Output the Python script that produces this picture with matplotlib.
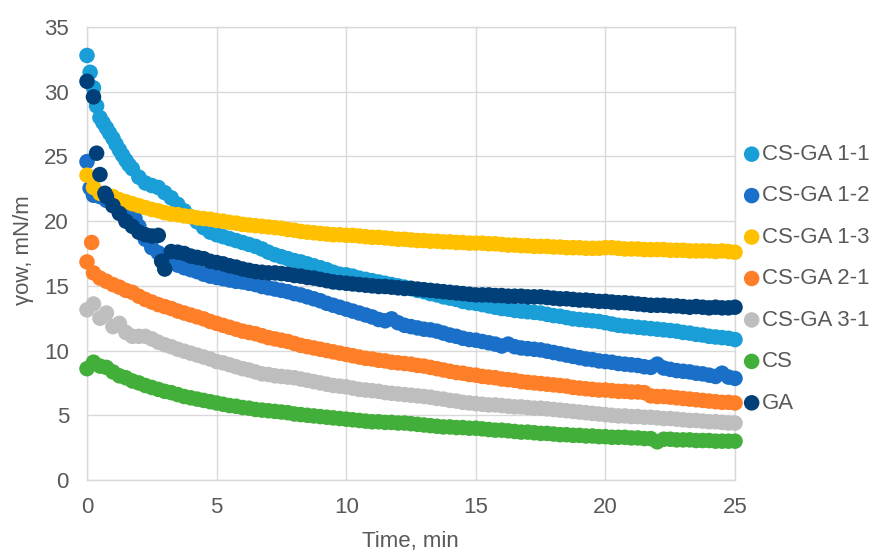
import numpy as np
import matplotlib
matplotlib.use("Agg")
import matplotlib.pyplot as plt

plt.rcParams['font.family'] = ['Liberation Sans', 'DejaVu Sans']

# readings every 0.25 min
minutes = np.arange(0, 25.01, 0.25)

cs_ga_11 = [32.8, 30.3, 28.0, 27.2, 26.4, 25.5, 24.7, 24.05, 23.4, 22.95, 22.75, 22.6,
            22.2, 21.8, 21.3, 20.8, 20.35, 19.95, 19.5, 19.15, 18.95, 18.8, 18.65, 18.5,
            18.35, 18.2, 18.05, 17.85, 17.6, 17.4, 17.25, 17.1, 16.95, 16.85, 16.7, 16.55,
            16.4, 16.25, 16.05, 15.9, 15.85, 15.75, 15.6, 15.5, 15.4, 15.3, 15.2, 15.1,
            15.0, 14.9, 14.8, 14.65, 14.55, 14.4, 14.3, 14.15, 14.05, 13.95, 13.8, 13.7,
            13.65, 13.55, 13.45, 13.35, 13.25, 13.2, 13.1, 13.05, 13.0, 12.95, 12.9, 12.8,
            12.7, 12.65, 12.55, 12.45, 12.4, 12.35, 12.3, 12.25, 12.15, 12.05, 11.95, 11.9,
            11.85, 11.8, 11.75, 11.7, 11.65, 11.6, 11.55, 11.5, 11.4, 11.35, 11.25, 11.2,
            11.1, 11.05, 11.0, 10.95, 10.85]

cs_ga_12 = [24.6, 22.0, 21.9, 21.6, 21.2, 20.8, 20.5, 20.25, 19.6, 18.6, 17.95, 17.55,
            17.1, 16.8, 16.6, 16.4, 16.25, 16.1, 15.9, 15.75, 15.65, 15.55, 15.45, 15.35,
            15.3, 15.2, 15.1, 14.95, 14.85, 14.75, 14.65, 14.55, 14.4, 14.3, 14.15, 14.0,
            13.85, 13.65, 13.5, 13.35, 13.2, 13.05, 12.9, 12.75, 12.6, 12.4, 12.3, 12.45,
            12.15, 11.95, 11.85, 11.75, 11.65, 11.6, 11.5, 11.35, 11.2, 11.1, 10.95, 10.85,
            10.8, 10.7, 10.6, 10.5, 10.35, 10.5, 10.3, 10.2, 10.15, 10.1, 10.05, 9.95,
            9.85, 9.75, 9.65, 9.55, 9.45, 9.35, 9.3, 9.2, 9.15, 9.1, 9.0, 8.95,
            8.9, 8.85, 8.75, 8.7, 8.95, 8.65, 8.55, 8.45, 8.4, 8.35, 8.25, 8.2,
            8.1, 8.0, 8.25, 7.95, 7.85]

cs_ga_13 = [23.55, 22.6, 22.15, 22.0, 21.9, 21.65, 21.5, 21.35, 21.2, 21.05, 20.9, 20.8,
            20.65, 20.55, 20.5, 20.4, 20.35, 20.25, 20.2, 20.15, 20.05, 20.0, 19.9, 19.85,
            19.75, 19.7, 19.65, 19.6, 19.55, 19.5, 19.45, 19.35, 19.3, 19.2, 19.15, 19.1,
            19.05, 19.0, 18.95, 18.95, 18.9, 18.9, 18.85, 18.8, 18.75, 18.75, 18.7, 18.65,
            18.6, 18.6, 18.55, 18.5, 18.5, 18.45, 18.45, 18.4, 18.4, 18.35, 18.35, 18.3,
            18.3, 18.3, 18.25, 18.25, 18.2, 18.15, 18.15, 18.1, 18.1, 18.05, 18.05, 18.05,
            18.0, 18.0, 17.95, 17.95, 17.95, 17.9, 17.9, 17.9, 17.95, 17.95, 17.9, 17.85,
            17.85, 17.85, 17.8, 17.8, 17.8, 17.8, 17.75, 17.75, 17.75, 17.7, 17.7, 17.7,
            17.7, 17.65, 17.7, 17.65, 17.6]

cs_ga_21 = [16.85, 16.0, 15.6, 15.35, 15.1, 14.9, 14.65, 14.5, 14.2, 13.95, 13.75, 13.55,
            13.4, 13.25, 13.05, 12.9, 12.75, 12.6, 12.45, 12.25, 12.1, 11.95, 11.8, 11.65,
            11.5, 11.4, 11.3, 11.15, 11.0, 10.9, 10.8, 10.7, 10.55, 10.4, 10.3, 10.2,
            10.1, 10.0, 9.9, 9.8, 9.7, 9.6, 9.5, 9.4, 9.35, 9.25, 9.2, 9.1,
            9.05, 9.0, 8.95, 8.85, 8.8, 8.7, 8.6, 8.5, 8.4, 8.3, 8.25, 8.15,
            8.1, 8.0, 7.95, 7.9, 7.8, 7.75, 7.7, 7.6, 7.55, 7.5, 7.45, 7.4,
            7.35, 7.3, 7.25, 7.15, 7.1, 7.05, 7.0, 6.95, 6.95, 6.9, 6.85, 6.85,
            6.8, 6.8, 6.75, 6.5, 6.45, 6.45, 6.4, 6.35, 6.3, 6.25, 6.2, 6.15,
            6.1, 6.05, 6.0, 6.0, 5.95]

cs_ga_31 = [13.15, 13.6, 12.5, 12.9, 11.85, 12.1, 11.4, 11.1, 11.1, 11.1, 10.9, 10.65,
            10.45, 10.3, 10.1, 9.95, 9.8, 9.65, 9.5, 9.35, 9.15, 9.05, 8.9, 8.75,
            8.6, 8.5, 8.35, 8.2, 8.15, 8.05, 8.0, 7.95, 7.9, 7.8, 7.7, 7.6,
            7.5, 7.4, 7.3, 7.25, 7.2, 7.1, 7.0, 6.95, 6.9, 6.85, 6.75, 6.7,
            6.65, 6.6, 6.55, 6.5, 6.45, 6.4, 6.3, 6.25, 6.15, 6.1, 6.0, 5.95,
            5.9, 5.85, 5.8, 5.8, 5.75, 5.7, 5.65, 5.65, 5.6, 5.55, 5.55, 5.5,
            5.45, 5.4, 5.35, 5.3, 5.25, 5.2, 5.15, 5.1, 5.05, 5.0, 4.95, 4.95,
            4.9, 4.9, 4.85, 4.85, 4.8, 4.75, 4.75, 4.7, 4.65, 4.6, 4.6, 4.55,
            4.5, 4.5, 4.45, 4.4, 4.4]

cs = [8.6, 9.1, 8.8, 8.7, 8.35, 8.05, 7.9, 7.65, 7.5, 7.3, 7.15, 7.0,
      6.85, 6.75, 6.6, 6.45, 6.35, 6.25, 6.15, 6.05, 5.95, 5.85, 5.75, 5.7,
      5.6, 5.55, 5.45, 5.4, 5.35, 5.3, 5.25, 5.2, 5.1, 5.05, 5.0, 4.95,
      4.9, 4.85, 4.8, 4.75, 4.7, 4.65, 4.6, 4.55, 4.5, 4.5, 4.45, 4.45,
      4.4, 4.4, 4.35, 4.3, 4.25, 4.2, 4.15, 4.1, 4.1, 4.05, 4.05, 4.0,
      4.0, 3.95, 3.9, 3.85, 3.85, 3.8, 3.75, 3.7, 3.7, 3.65, 3.6, 3.6,
      3.55, 3.5, 3.5, 3.45, 3.45, 3.4, 3.4, 3.35, 3.35, 3.3, 3.3, 3.3,
      3.25, 3.25, 3.2, 3.2, 2.95, 3.15, 3.15, 3.1, 3.1, 3.1, 3.05, 3.05,
      3.05, 3.0, 3.0, 3.0, 3.0]

ga = [30.8, 29.6, 23.6, 21.9, 21.2, 20.6, 20.0, 19.6, 19.15, 18.95, 18.85, 18.9,
      16.3, 17.65, 17.6, 17.5, 17.3, 17.2, 17.1, 16.9, 16.8, 16.7, 16.55, 16.45,
      16.3, 16.2, 16.1, 16.05, 16.0, 16.0, 15.95, 15.9, 15.8, 15.75, 15.65, 15.6,
      15.5, 15.4, 15.3, 15.25, 15.2, 15.15, 15.1, 15.05, 15.0, 14.95, 14.95, 14.9,
      14.85, 14.8, 14.8, 14.75, 14.7, 14.65, 14.6, 14.55, 14.5, 14.45, 14.4, 14.35,
      14.3, 14.3, 14.3, 14.25, 14.25, 14.2, 14.2, 14.2, 14.15, 14.15, 14.15, 14.1,
      14.05, 14.0, 14.0, 13.95, 13.9, 13.9, 13.85, 13.8, 13.8, 13.75, 13.7, 13.7,
      13.65, 13.6, 13.55, 13.5, 13.5, 13.5, 13.45, 13.45, 13.4, 13.35, 13.4, 13.35,
      13.3, 13.35, 13.3, 13.3, 13.35]

# a few readings taken between the regular ones
cs_ga_11_extra_t = [0.12, 0.37, 0.62, 0.87, 1.12, 1.37, 1.62]
cs_ga_11_extra_v = [31.5, 28.9, 27.6, 26.8, 25.95, 25.1, 24.35]
cs_ga_12_extra_t = [0.12, 1.85]
cs_ga_12_extra_v = [22.55, 20.2]
cs_ga_21_extra_t = [0.18]
cs_ga_21_extra_v = [18.35]
ga_extra_t = [0.37, 0.69, 2.88]
ga_extra_v = [25.25, 22.15, 16.9]

labels = ['CS-GA 1-1', 'CS-GA 1-2', 'CS-GA 1-3', 'CS-GA 2-1', 'CS-GA 3-1', 'CS', 'GA']
colors = ['#1A9ED8', '#1A70C8', '#FFC000', '#FE7F27', '#BEBEBE', '#43AF3B', '#003F78']

series = [
    (cs_ga_11, cs_ga_11_extra_t, cs_ga_11_extra_v),
    (cs_ga_12, cs_ga_12_extra_t, cs_ga_12_extra_v),
    (cs_ga_13, [], []),
    (cs_ga_21, cs_ga_21_extra_t, cs_ga_21_extra_v),
    (cs_ga_31, [], []),
    (cs, [], []),
    (ga, ga_extra_t, ga_extra_v),
]

fig = plt.figure(figsize=(8.78, 5.5), dpi=100)
ax = fig.add_axes([87 / 878, 70 / 550, 648 / 878, 453 / 550])

for (vals, ext, exv), lab, col in zip(series, labels, colors):
    t = np.concatenate([minutes, ext])
    v = np.concatenate([vals, exv])
    ax.scatter(t, v, s=125, color=col, edgecolors='none', clip_on=False,
               zorder=3, label=lab)

ax.set_xlim(0, 25)
ax.set_ylim(0, 35)
ax.set_xticks(range(0, 26, 5))
ax.set_yticks(range(0, 36, 5))
ax.grid(True, color='#D9D9D9', linewidth=1.0, zorder=0)
ax.set_axisbelow(True)
for sp in ax.spines.values():
    sp.set_color('#D9D9D9')
    sp.set_linewidth(1.0)
ax.tick_params(axis='both', length=0, labelsize=16, labelcolor='#595959')
ax.tick_params(axis='y', pad=13)
ax.tick_params(axis='x', pad=12)

fig.text(410 / 878, 1 - 541 / 550, 'Time, min', ha='center', va='center',
         fontsize=16, color='#595959')
fig.text(24 / 878, 1 - 250 / 550, 'γow, mN/m', ha='center', va='center',
         rotation=90, fontsize=16, color='#595959')

ax.legend(loc='upper left', bbox_to_anchor=(745 / 878, 1 - 144 / 550),
          bbox_transform=fig.transFigure, frameon=False, fontsize=16,
          labelcolor='#595959', handlelength=0.6, handletextpad=0.15,
          labelspacing=0.92, borderpad=0, borderaxespad=0, scatterpoints=1)

fig.savefig('out.png', dpi=100)
